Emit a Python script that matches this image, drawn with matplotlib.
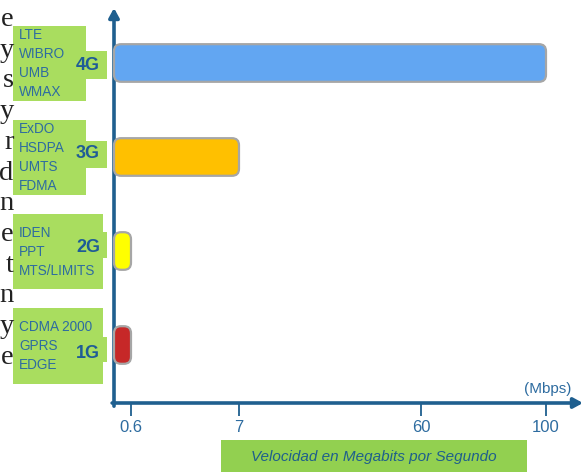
import numpy as np
import matplotlib.pyplot as plt
from matplotlib.patches import FancyBboxPatch, Rectangle
from matplotlib.transforms import IdentityTransform

plt.rcParams['font.family'] = ['Liberation Sans', 'DejaVu Sans']

# --- data ---
generations = ['1G', '2G', '3G', '4G']
speeds = [0.6, 0.6, 7, 100]          # Mbps
bar_colors = ['#c62828', '#ffff00', '#ffc000', '#62a6f2']
techs = {
    '4G': ['LTE', 'WIBRO', 'UMB', 'WMAX'],
    '3G': ['ExDO', 'HSDPA', 'UMTS', 'FDMA'],
    '2G': ['IDEN', 'PPT', 'MTS/LIMITS'],
    '1G': ['CDMA 2000', 'GPRS', 'EDGE'],
}
tick_vals = [0.6, 7, 60, 100]
tick_labels = ['0.6', '7', '60', '100']
edge_letters = ['e', 'y', 's', 'y', 'r', 'd', 'n', 'e', 't', 'n', 'y', 'e']

axis_c = '#1f5f8f'
text_c = '#2e6ca0'
label_green = '#a9dd5f'
title_green = '#92d050'

W, H = 585, 472
fig = plt.figure(figsize=(W / 100, H / 100), dpi=100)
ax = fig.add_axes([114 / W, 69 / H, 469 / W, 395 / H])

# uneven speed axis (piecewise linear between the marked speeds)
brk_v = [0, 0.6, 7, 60, 100, 140]
brk_p = [0, 17, 125, 307, 432, 557]
def fwd(v):
    return np.interp(v, brk_v, brk_p)
def inv(p):
    return np.interp(p, brk_p, brk_v)
ax.set_xscale('function', functions=(fwd, inv))
ax.set_xlim(0, float(inv(469)))
ax.set_ylim(-0.617, 3.585)

bars = ax.barh(range(len(generations)), speeds, height=0.4, color=bar_colors)

for s in ax.spines.values():
    s.set_visible(False)
ax.set_yticks([])
ax.set_xticks(tick_vals)
ax.set_xticklabels(tick_labels)
ax.minorticks_off()
ax.tick_params(axis='x', direction='out', length=9, width=1.3, color=axis_c,
               labelcolor=text_c, labelsize=12, pad=3)

# axis arrows
arrow = dict(arrowstyle='-|>,head_length=0.55,head_width=0.3', lw=2.6, color=axis_c,
             shrinkA=0, shrinkB=0)
ax.annotate('', xy=(0, 1), xytext=(0, -0.008), xycoords='axes fraction',
            arrowprops=arrow, annotation_clip=False)
ax.annotate('', xy=(1, 0), xytext=(-0.004, 0), xycoords='axes fraction',
            arrowprops=arrow, annotation_clip=False)
ax.text(0.925, 0.018, '(Mbps)', transform=ax.transAxes, ha='center', va='bottom',
        color=text_c, fontsize=11)

# swap the plain bars for rounded ones of the same size
fig.canvas.draw()
for b in bars:
    bb = b.get_window_extent()
    rb = FancyBboxPatch((bb.x0, bb.y0), bb.width, bb.height,
                        boxstyle='round,pad=0,rounding_size=7',
                        facecolor=b.get_facecolor(), edgecolor='#a6a6a6', lw=1.6,
                        transform=IdentityTransform(), zorder=3)
    fig.add_artist(rb)
    b.set_visible(False)

def px(x, y):
    return x / W, 1 - y / H

def box(x0, y0, x1, y1, color):
    fig.add_artist(Rectangle(px(x0, y1), (x1 - x0) / W, (y1 - y0) / H,
                             transform=fig.transFigure, facecolor=color,
                             edgecolor='none'))

# label boxes on the left: (main box), (tab), first line y, generation label y
layout = {
    '4G': ((13, 26, 86, 101), (86, 51, 107, 79), 35, 65),
    '3G': ((13, 120, 86, 195), (86, 141, 107, 168), 129, 154),
    '2G': ((13, 214, 103, 289), (103, 232, 107, 258), 233, 247),
    '1G': ((13, 308, 103, 384), (103, 337, 107, 362), 327, 353),
}
for g in generations[::-1]:
    main, tab, y_first, y_gen = layout[g]
    box(*main, label_green)
    box(*tab, label_green)
    for i, t in enumerate(techs[g]):
        fig.text(*px(19, y_first + 19 * i), t, ha='left', va='center',
                 color=text_c, fontsize=9.8)
    fig.text(*px(88, y_gen), g, ha='center', va='center', color='#1f5c96',
             fontsize=13, fontweight='bold')

# axis title box
box(221, 440, 527, 472, title_green)
fig.text(*px(374, 457), 'Velocidad en Megabits por Segundo', ha='center',
         va='center', color='#1f5f8b', fontsize=11, style='italic')

# ends of the surrounding page text at the left edge
for i, ch in enumerate(edge_letters):
    fig.text(*px(13.5, 26 + 30.7 * i), ch, ha='right', va='baseline',
             family='Liberation Serif', fontsize=20.5, color='#222222')

fig.savefig('out.png', dpi=100)
